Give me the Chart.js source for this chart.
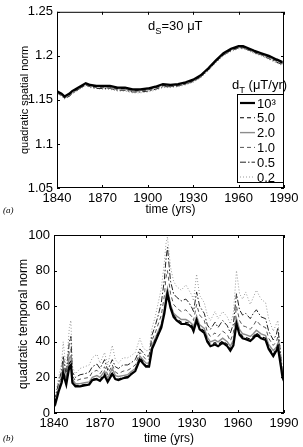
<!DOCTYPE html>
<html>
<head>
<meta charset="utf-8">
<script src="https://cdn.jsdelivr.net/npm/chart.js@4"></script>
<style>
  html, body { margin:0; padding:0; background:#fff; }
  #wrap { position:relative; width:303px; height:447px; }
  canvas { position:absolute; left:0; }
  #cSpatial { top:0; }
  #cTemporal { top:220px; }
</style>
</head>
<body>
<div id="wrap">
  <canvas id="cSpatial" width="303" height="218"></canvas>
  <canvas id="cTemporal" width="303" height="227"></canvas>
</div>
<script>
// ── Datos ──
const X_TICKS = [1840, 1870, 1900, 1930, 1960, 1990];
const Y_TICKS_SPATIAL = [1.05, 1.1, 1.15, 1.2, 1.25];
const Y_TICKS_TEMPORAL = [0, 20, 40, 60, 80, 100];
const LEGEND_LABELS = ['10³', '5.0', '2.0', '1.0', '0.5', '0.2'];

// (a) quadratic spatial norm
const yearsS = [1840,1843,1845,1848,1850,1855,1859,1862,1866,1870,1875,1880,1885,1890,1895,1900,1905,1910,1915,1920,1925,1930,1935,1940,1945,1950,1955,1960,1963,1966,1970,1975,1980,1985,1989];
const spatial1000 = [1.160,1.157,1.154,1.157,1.160,1.165,1.169,1.167,1.166,1.166,1.166,1.164,1.164,1.162,1.162,1.163,1.165,1.168,1.167,1.168,1.170,1.173,1.178,1.186,1.195,1.203,1.208,1.211,1.211,1.209,1.206,1.203,1.200,1.196,1.193];
const spatial5   = [1.159,1.156,1.153,1.156,1.159,1.164,1.168,1.166,1.165,1.165,1.165,1.163,1.163,1.161,1.161,1.162,1.164,1.167,1.166,1.167,1.169,1.172,1.177,1.185,1.194,1.202,1.207,1.210,1.210,1.208,1.205,1.202,1.199,1.195,1.192];
const spatial2   = [1.159,1.156,1.153,1.156,1.159,1.164,1.168,1.166,1.165,1.165,1.164,1.163,1.162,1.161,1.161,1.162,1.164,1.167,1.166,1.167,1.169,1.172,1.177,1.185,1.194,1.202,1.207,1.210,1.210,1.208,1.205,1.202,1.198,1.195,1.192];
const spatial1   = [1.158,1.155,1.152,1.155,1.158,1.163,1.167,1.165,1.164,1.164,1.163,1.162,1.161,1.160,1.160,1.161,1.163,1.166,1.165,1.166,1.168,1.171,1.176,1.184,1.193,1.201,1.206,1.209,1.209,1.207,1.204,1.201,1.197,1.194,1.191];
const spatial05  = [1.158,1.155,1.152,1.154,1.157,1.163,1.167,1.165,1.163,1.163,1.163,1.161,1.161,1.159,1.159,1.160,1.162,1.165,1.165,1.166,1.168,1.171,1.176,1.184,1.193,1.201,1.206,1.209,1.209,1.207,1.204,1.201,1.197,1.193,1.190];
const spatial02  = [1.157,1.154,1.151,1.154,1.157,1.162,1.166,1.164,1.163,1.162,1.162,1.160,1.160,1.158,1.158,1.159,1.161,1.164,1.164,1.165,1.167,1.170,1.175,1.183,1.192,1.200,1.205,1.208,1.208,1.206,1.203,1.200,1.196,1.192,1.189];

// (b) quadratic temporal norm
const yearsT = [1840,1841,1843,1845,1846,1848,1850,1851,1852,1854,1857,1860,1863,1865,1868,1870,1873,1875,1878,1880,1882,1885,1888,1890,1893,1896,1898,1900,1902,1904,1906,1908,1910,1912,1913,1914,1916,1918,1920,1923,1926,1928,1930,1931,1933,1935,1938,1940,1942,1945,1947,1950,1953,1955,1957,1959,1961,1963,1965,1968,1970,1972,1975,1978,1980,1983,1985,1986,1988,1989,1990];
const temporal1000 = [8,5.5,12,17,22,16,26,27,17,15, 15,15.5,16,18.5,19,18,21,17.5,22,19, 18.5,19.5,20,21.5,23.5,30,28,26,26,36, 40,44,48,56,62,67,59,54,52,50, 50,49.5,48,46,52,47,45,40,37.5,38.5, 37.5,39.5,37.5,35,38,50,44,42,41.5,40.5, 42,44,42,41,36,32,35,37,26,20, 18];
const temporal5   = [9,6,13,18,24,17,28,29,17.5,15.5, 15.5,16,16.5,19,19.5,18.5,22,18,23,19.5, 19,20,20.5,22,24,31,29,26.5,27,37, 41,45,49,57,64,68,60,55,53,51, 51,50.5,49,47,53,48,46,41,38.5,39.5, 38.5,40.5,38.5,36,39,51,45,43,42.5,41.5, 43,45,43,42,37,33,36,38,27,21, 18.5];
const temporal2   = [9,7,14,19,26,18,31,32,19,16.5, 16.5,17,17.5,20,21,20,23.5,19.5,25,21, 20.5,21,21.5,23,25,32,30,28,28,38, 42,46,50,59,66,70,61,56,54.5,52.5, 52.5,51.5,50,48.5,54.5,49.5,47.5,42.5,40,41, 40,42,40,37.5,41,53,47,44.5,44,43, 44.5,46.5,44.5,43.5,38.5,35,37,39,28,22, 19];
const temporal1   = [10,8,15,21,29,19,35,36,21,18, 19,19.5,20,23,24,22,26,21.5,27,23, 22,23.5,24,25,27,34,32,30,30,41, 45,50,55,66,76,80,67,61,59,57, 58,56,54,52,61,55,52,45.5,43,45, 43,46,44,40.5,45,60,52,49,48.5,47, 49,52,49,48,42,38,40,43,29,22.5, 19];
const temporal05  = [11,9,17,24,32,21,40,43,23,20, 21.5,22,23,26,27.5,25,30,24,30,26, 25,27,27,28,30,36,34,32,32,44, 49,55,62,75,86,93,74,67,65,63, 64,62,59,57,68,60,56,49.5,47,51, 48,52,49,45,50,67,58,55,56,53, 56,58,54,53,46,41,44,48,31,23, 19.5];
const temporal02  = [12,10,20,28,40,24,48,52,26,22, 25,26,27,31,33,28,34,27,38,30, 28,31,31,32,34,42,37,35,35,48, 54,62,70,85,95,99,82,74,71,69, 72,69,66,63,78,66,62,55,52,57, 53,57,54,50,56,80,67,64,68,61, 65,69,64,62,53,46,50,52,33,24, 20];

// ── Estilos de línea (uno por d_T) ──
const ESTILOS = [
  { color:'#000',    width:2.2, dash:[] },
  { color:'#000',    width:1.1, dash:[4,3] },
  { color:'#8c8c8c', width:1.4, dash:[] },
  { color:'#555',    width:1,   dash:[4,3] },
  { color:'#222',    width:1,   dash:[6,2,1.5,2] },
  { color:'#9a9a9a', width:1,   dash:[1,2] },
];

const FUENTE = 'Liberation Sans, Arial, Helvetica, sans-serif';
Chart.defaults.font.family = FUENTE;
Chart.defaults.color = '#000';

function serie(years, values, i) {
  const e = ESTILOS[i];
  return {
    label: LEGEND_LABELS[i],
    data: years.map((x, k) => ({ x, y: values[k] })),
    borderColor: e.color, borderWidth: e.width, borderDash: e.dash,
    pointRadius: 0, tension: 0, fill: false,
  };
}

// ── Marco tipo MATLAB: caja + ticks hacia dentro ──
const marcoPlugin = {
  id: 'marco',
  afterDraw(chart) {
    const { ctx, chartArea: a, scales: { x, y } } = chart;
    ctx.save();
    ctx.strokeStyle = '#000'; ctx.lineWidth = 1; ctx.setLineDash([]);
    ctx.strokeRect(a.left + .5, a.top + .5, a.width - 1, a.height - 1);
    ctx.beginPath();
    x.ticks.forEach(t => {
      const px = Math.round(x.getPixelForValue(t.value)) + .5;
      ctx.moveTo(px, a.bottom); ctx.lineTo(px, a.bottom - 3);
      ctx.moveTo(px, a.top);    ctx.lineTo(px, a.top + 3);
    });
    y.ticks.forEach(t => {
      const py = Math.round(y.getPixelForValue(t.value)) + .5;
      ctx.moveTo(a.left, py);  ctx.lineTo(a.left + 3, py);
      ctx.moveTo(a.right, py); ctx.lineTo(a.right - 3, py);
    });
    ctx.stroke();
    ctx.restore();
  }
};

// ── Texto con subíndice ──
function textoSub(ctx, x, y, base, sub, resto, size) {
  ctx.font = `${size}px ${FUENTE}`;
  ctx.fillText(base, x, y);
  let w = ctx.measureText(base).width;
  ctx.font = `${size * 0.72}px ${FUENTE}`;
  ctx.fillText(sub, x + w, y + size * 0.3);
  w += ctx.measureText(sub).width;
  ctx.font = `${size}px ${FUENTE}`;
  ctx.fillText(resto, x + w, y);
}

// ── Leyenda y anotaciones del panel (a) ──
const leyendaPlugin = {
  id: 'leyenda',
  afterDraw(chart) {
    const { ctx, chartArea: a } = chart;
    ctx.save();
    ctx.fillStyle = '#000'; ctx.textBaseline = 'alphabetic'; ctx.textAlign = 'left';
    textoSub(ctx, 148, 30, 'd', 'S', '=30 μT', 13);

    const bx = 237, by = 94, bw = a.right - bx, bh = 89;
    ctx.fillStyle = '#fff';
    ctx.fillRect(bx, by, bw, bh);
    ctx.strokeStyle = '#000'; ctx.lineWidth = 1;
    ctx.strokeRect(bx + .5, by + .5, bw - 1, bh - 1);

    ctx.fillStyle = '#000';
    textoSub(ctx, 232, 89, 'd', 'T', ' (μT/yr)', 13);

    ctx.font = `13px ${FUENTE}`; ctx.textBaseline = 'middle';
    chart.data.datasets.forEach((ds, i) => {
      const yy = by + 9 + i * 14.8;
      ctx.beginPath();
      ctx.strokeStyle = ds.borderColor; ctx.lineWidth = ds.borderWidth;
      ctx.setLineDash(ds.borderDash);
      ctx.moveTo(bx + 3, yy); ctx.lineTo(bx + 18, yy);
      ctx.stroke();
      ctx.setLineDash([]);
      ctx.fillText(ds.label, bx + 20, yy + 1);
    });

    ctx.font = `italic 9px Liberation Serif, Times New Roman, serif`;
    ctx.textBaseline = 'middle';
    ctx.fillText('(a)', 3, 211);
    ctx.restore();
  }
};

const etiquetaB = {
  id: 'etiquetaB',
  afterDraw(chart) {
    const { ctx } = chart;
    ctx.save();
    ctx.fillStyle = '#000';
    ctx.font = `italic 9px Liberation Serif, Times New Roman, serif`;
    ctx.textBaseline = 'middle';
    ctx.fillText('(b)', 3, 219);
    ctx.restore();
  }
};

function opciones(yMin, yMax, yTicks, yTitulo, pad, ySize, xH) {
  return {
    responsive: false, animation: false,
    layout: { padding: { top: pad.top, right: 19, left: 0, bottom: 0 } },
    plugins: { legend: { display: false }, tooltip: { enabled: false } },
    scales: {
      x: {
        type: 'linear', min: 1840, max: 1990,
        afterBuildTicks: s => { s.ticks = X_TICKS.map(v => ({ value: v })); },
        afterFit: s => { s.height = xH; },
        grid: { display: false, drawTicks: false }, border: { display: false },
        ticks: { font: { size: 13 }, padding: 3, maxRotation: 0, autoSkip: false, color: '#000', callback: v => String(v) },
        title: { display: true, text: 'time (yrs)', font: { size: 12 }, padding: { top: 0, bottom: 1 }, color: '#000' },
      },
      y: {
        min: yMin, max: yMax,
        afterBuildTicks: s => { s.ticks = yTicks.map(v => ({ value: v })); },
        afterFit: s => { s.width = pad.left; },
        grid: { display: false, drawTicks: false }, border: { display: false },
        ticks: { font: { size: 13 }, padding: 4, color: '#000', callback: v => String(v) },
        title: { display: true, text: yTitulo, font: { size: ySize }, padding: { top: pad.title, bottom: 0 }, color: '#000' },
      }
    }
  };
}

// ── Panel (a) ──
new Chart(document.getElementById('cSpatial'), {
  type: 'line',
  data: { datasets: [spatial1000, spatial5, spatial2, spatial1, spatial05, spatial02].map((v, i) => serie(yearsS, v, i)) },
  options: opciones(1.05, 1.25, Y_TICKS_SPATIAL, 'quadratic spatial norm', { top: 8, left: 57, title: 18 }, 11, 30),
  plugins: [marcoPlugin, leyendaPlugin],
});

// ── Panel (b) ──
new Chart(document.getElementById('cTemporal'), {
  type: 'line',
  data: { datasets: [temporal1000, temporal5, temporal2, temporal1, temporal05, temporal02].map((v, i) => serie(yearsT, v, i)) },
  options: opciones(0, 100, Y_TICKS_TEMPORAL, 'quadratic temporal norm', { top: 15, left: 54, title: 16 }, 12, 34),
  plugins: [marcoPlugin, etiquetaB],
});
</script>
</body>
</html>
